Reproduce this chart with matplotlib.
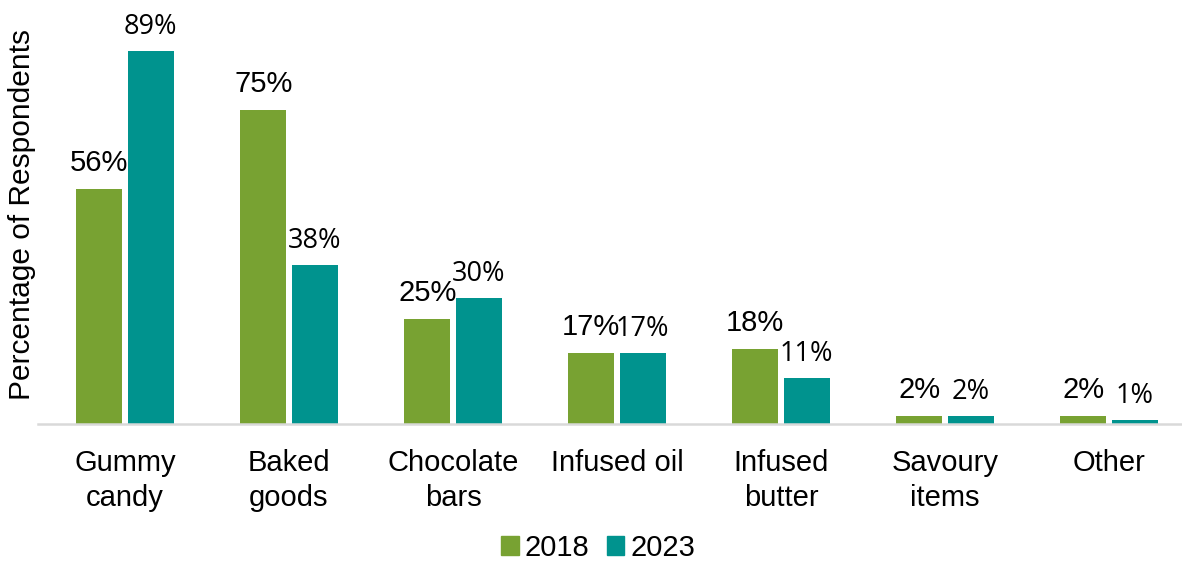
import numpy as np
import matplotlib.pyplot as plt
from matplotlib.patches import Patch

categories = ['Gummy\ncandy', 'Baked\ngoods', 'Chocolate\nbars', 'Infused oil',
              'Infused\nbutter', 'Savoury\nitems', 'Other']
vals_2018 = [56, 75, 25, 17, 18, 2, 2]
vals_2023 = [89, 38, 30, 17, 11, 2, 1]
series = ['2018', '2023']

green = '#78A232'
teal = '#00938E'

plt.rcParams['font.family'] = ['Liberation Sans', 'DejaVu Sans']

fig = plt.figure(figsize=(11.82, 5.64), dpi=100)
ax = fig.add_axes([38/1182, 140/564, 1 - 38/1182, 424/564])

x = np.arange(len(categories))
w = 0.28
off = 0.157
b1 = ax.bar(x - off, vals_2018, w, color=green)
b2 = ax.bar(x + off, vals_2023, w, color=teal)

# value labels above the bars
for rect, v in zip(b1, vals_2018):
    ax.annotate(f'{v}%', (rect.get_x() + rect.get_width()/2, rect.get_height()),
                xytext=(0, 12), textcoords='offset pixels', ha='center', va='bottom',
                fontsize=21, color='black')
for rect, v in zip(b2, vals_2023):
    ax.annotate(f'{v}%', (rect.get_x() + rect.get_width()/2, rect.get_height()),
                xytext=(0, 10), textcoords='offset pixels', ha='center', va='bottom',
                fontsize=19.5, color='black', family='Open Sans')

ax.set_xlim(-0.530, 6.445)
ax.set_ylim(0, 101.2)
ax.set_xticks(x)
ax.set_xticklabels(categories, fontsize=21, linespacing=1.3)
ax.tick_params(axis='x', length=0, pad=18)
ax.set_yticks([])
for s in ['top', 'right', 'left']:
    ax.spines[s].set_visible(False)
ax.spines['bottom'].set_color('#d9d9d9')
ax.spines['bottom'].set_linewidth(1.8)

fig.text(22/1182, 1 - 215/564, 'Percentage of Respondents', rotation=90,
         ha='center', va='center', fontsize=21.5)

handles = [Patch(color=green, label=series[0]), Patch(color=teal, label=series[1])]
fig.legend(handles=handles, loc='center', bbox_to_anchor=(598/1182, 1 - 548/564),
           ncol=2, frameon=False, fontsize=21, handlelength=0.6, handleheight=0.6,
           handletextpad=0.2, columnspacing=0.6, borderpad=0)

fig.savefig('out.png', dpi=100)
